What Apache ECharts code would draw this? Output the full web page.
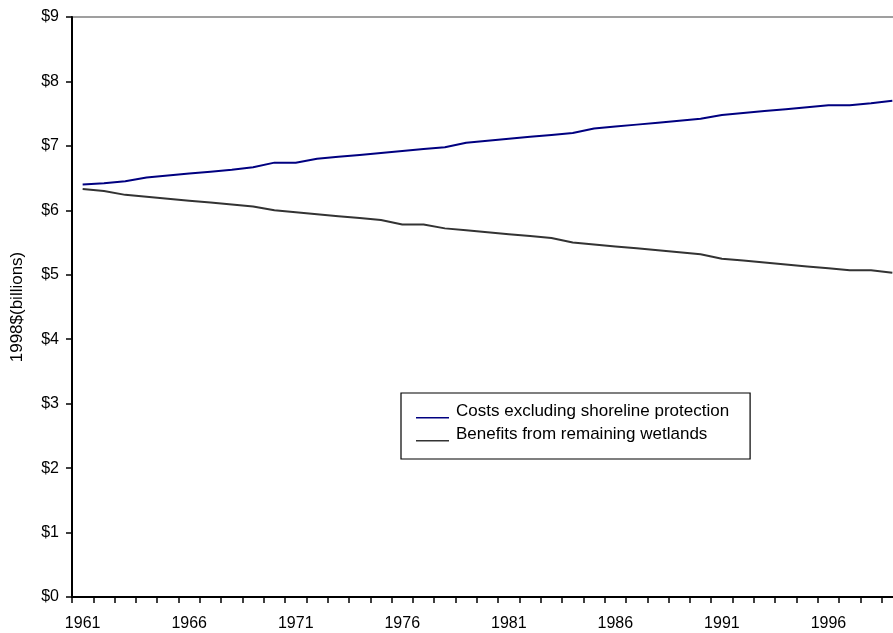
<!DOCTYPE html>
<html>
<head>
<meta charset="utf-8">
<script src="https://cdn.jsdelivr.net/npm/echarts@6/dist/echarts.min.js"></script>
<style>
html,body{margin:0;padding:0;background:#fff;}
#chart{width:893px;height:633px;}
</style>
</head>
<body>
<div id="chart"></div>
<script>
var years = ['1961','1962','1963','1964','1965','1966','1967','1968','1969','1970',
  '1971','1972','1973','1974','1975','1976','1977','1978','1979','1980',
  '1981','1982','1983','1984','1985','1986','1987','1988','1989','1990',
  '1991','1992','1993','1994','1995','1996','1997','1998','1999'];
var costs = [6.40,6.42,6.45,6.51,6.54,6.57,6.60,6.63,6.67,6.74,
  6.74,6.80,6.83,6.86,6.89,6.92,6.95,6.98,7.05,7.08,
  7.11,7.14,7.17,7.20,7.27,7.30,7.33,7.36,7.39,7.42,
  7.48,7.51,7.54,7.57,7.60,7.63,7.63,7.66,7.70];
var benefits = [6.33,6.30,6.24,6.21,6.18,6.15,6.12,6.09,6.06,6.00,
  5.97,5.94,5.91,5.88,5.85,5.78,5.78,5.72,5.69,5.66,
  5.63,5.60,5.57,5.50,5.47,5.44,5.41,5.38,5.35,5.32,
  5.25,5.22,5.19,5.16,5.13,5.10,5.07,5.07,5.03];
var seriesNames = ['Costs excluding shoreline protection','Benefits from remaining wetlands'];
var yAxisTitle = '1998$(billions)';

var chart = echarts.init(document.getElementById('chart'), null, {renderer:'canvas'});
var font = 'Liberation Sans, Arial, sans-serif';
var legendIcon = 'path://M0,0L0.01,0M0,12.5L33,12.5L33,14L0,14Z';
chart.setOption({
  animation:false,
  backgroundColor:'#fff',
  grid:{left:72,top:17,bottom:36,width:831,outerBoundsMode:'none',containLabel:false,
    show:true,borderColor:'#808080',borderWidth:1.5,backgroundColor:'transparent'},
  legend:{
    orient:'vertical',left:401,top:393,
    padding:[10,21,16,15],
    itemGap:6,
    itemWidth:33,itemHeight:14,icon:legendIcon,
    itemStyle:{borderWidth:0},
    borderColor:'#000',borderWidth:1.2,backgroundColor:'#fff',
    textStyle:{fontFamily:font,fontSize:17,color:'#000',padding:[0,0,0,2]},
    data:seriesNames
  },
  xAxis:{
    type:'category',data:years,boundaryGap:true,
    axisLine:{lineStyle:{color:'#000',width:2}},
    axisTick:{show:true,interval:0,length:6,lineStyle:{color:'#000',width:1.5}},
    axisLabel:{interval:4,margin:19,fontFamily:font,fontSize:16,color:'#000'},
    splitLine:{show:false}
  },
  yAxis:{
    type:'value',min:0,max:9,interval:1,
    name:yAxisTitle,nameLocation:'middle',nameGap:46,nameRotate:90,
    nameTextStyle:{fontFamily:font,fontSize:17,color:'#000'},
    axisLine:{show:true,lineStyle:{color:'#000',width:2}},
    axisTick:{show:true,length:6,lineStyle:{color:'#000',width:1.5}},
    axisLabel:{margin:13,fontFamily:font,fontSize:16,color:'#000',formatter:function(v){return '$'+v;}},
    splitLine:{show:false}
  },
  series:[
    {name:seriesNames[0],type:'line',data:costs,symbol:'none',lineStyle:{color:'#000080',width:2},itemStyle:{color:'#000080'}},
    {name:seriesNames[1],type:'line',data:benefits,symbol:'none',lineStyle:{color:'#333333',width:2},itemStyle:{color:'#333333'}}
  ]
});
</script>
</body>
</html>
